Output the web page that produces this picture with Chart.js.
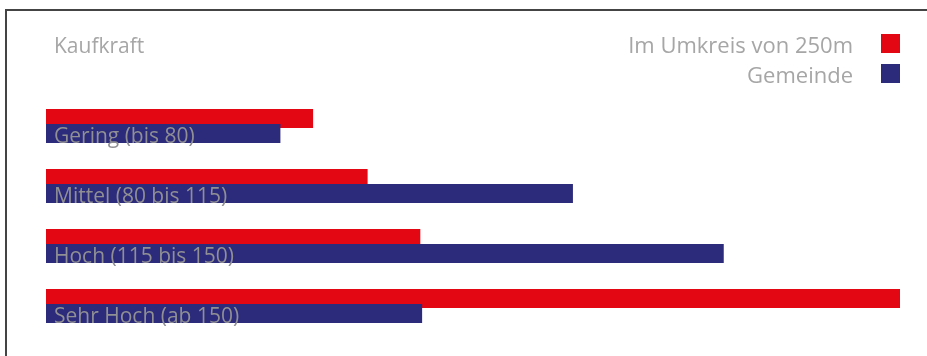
<!DOCTYPE html>
<html>
<head>
<meta charset="utf-8">
<script src="https://cdn.jsdelivr.net/npm/chart.js@4.4.1/dist/chart.umd.min.js"></script>
<style>
  html, body { margin: 0; padding: 0; background: #fff; overflow: hidden; }
  #frame { position: absolute; left: 5px; top: 9px; width: 1000px; height: 400px;
           border-top: 2px solid #444; border-left: 2px solid #444; }
  #wrap { position: absolute; left: 0; top: 0; width: 927px; height: 356px; }
</style>
</head>
<body>
<div id="frame"></div>
<div id="wrap"><canvas id="c" width="927" height="356"></canvas></div>
<script>
const title = "Kaufkraft";
const categories = ["Gering (bis 80)", "Mittel (80 bis 115)", "Hoch (115 bis 150)", "Sehr Hoch (ab 150)"];
const seriesNames = ["Im Umkreis von 250m", "Gemeinde"];
const umkreisValues = [14.7, 17.7, 20.6, 47.0];
const gemeindeValues = [12.9, 29.0, 37.3, 20.7];
const colors = ["#e30613", "#2b2a7b"];

const FONT = "'Open Sans', sans-serif";
const TEXT = "#a6a6a6";

const overlay = {
  id: 'overlay',
  beforeDatasetsDraw(chart) {
    // draw datasets in index order so the second series sits on top
    chart.getSortedVisibleDatasetMetas().forEach(m => m.controller.draw());
    return false;
  },
  afterDraw(chart) {
    const ctx = chart.ctx;
    ctx.save();
    const meta = chart.getDatasetMeta(1);
    ctx.font = "21px " + FONT;
    ctx.fillStyle = "#8f8f94";
    ctx.textAlign = "left";
    ctx.textBaseline = "alphabetic";
    chart.data.labels.forEach((lab, i) => {
      const bar = meta.data[i];
      ctx.fillText(lab, chart.chartArea.left + 8, bar.y + bar.height / 2 - 0.5);
    });
    ctx.fillStyle = TEXT;
    ctx.font = "21px " + FONT;
    ctx.fillText(title, 54, 53);
    ctx.textAlign = "right";
    ctx.font = "22px " + FONT;
    chart.data.datasets.forEach((ds, i) => {
      const y = 53 + i * 30;
      ctx.fillStyle = TEXT;
      ctx.fillText(ds.label, 853, y);
      ctx.fillStyle = ds.backgroundColor;
      ctx.fillRect(881, y - 19, 19, 19);
    });
    ctx.restore();
  }
};

new Chart(document.getElementById('c'), {
  type: 'bar',
  data: {
    labels: categories,
    datasets: [
      { label: seriesNames[0], data: umkreisValues, backgroundColor: colors[0] },
      { label: seriesNames[1], data: gemeindeValues, backgroundColor: colors[1] }
    ]
  },
  options: {
    indexAxis: 'y',
    responsive: false,
    animation: false,
    categoryPercentage: 0.5,
    barPercentage: 19 / 15,
    layout: { padding: { left: 46, right: 27, top: 96, bottom: 20 } },
    scales: {
      x: { display: false, min: 0, max: 47 },
      y: { display: false }
    },
    plugins: { legend: { display: false }, tooltip: { enabled: false } }
  },
  plugins: [overlay]
});
</script>
</body>
</html>
